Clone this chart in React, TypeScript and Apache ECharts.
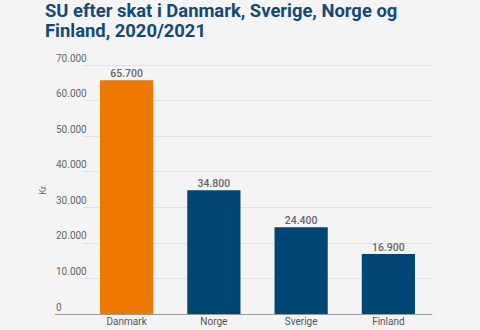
import React, { useEffect, useRef } from "react";
import * as echarts from "echarts";

const titleText = "SU efter skat i Danmark, Sverige, Norge og\nFinland, 2020/2021";
const categories = ["Danmark", "Norge", "Sverige", "Finland"];
const values = [65700, 34800, 24400, 16900];
const barColors = ["#ef7900", "#004776", "#004776", "#004776"];
const yMax = 70000;
const yInterval = 10000;
const yName = "Kr.";

const fmt = (v: number) => String(v).replace(/\B(?=(\d{3})+(?!\d))/g, ".");

export default function App() {
  const ref = useRef<HTMLDivElement>(null);
  useEffect(() => {
    if (!ref.current) return;
    const chart = echarts.init(ref.current, undefined, { renderer: "svg" });
    const font = "Roboto, sans-serif";
    chart.setOption({
      animation: false,
      backgroundColor: "#f4f4f4",
      textStyle: { fontFamily: font },
      graphic: [
        {
          type: "text",
          left: 45,
          top: 1,
          style: {
            text: titleText,
            fontFamily: font,
            fontSize: 18.4,
            fontWeight: "bold",
            lineHeight: 19.5,
            fill: "#0e4b7c",
          },
        },
        {
          type: "line",
          shape: { x1: 55, y1: 314.5, x2: 84, y2: 314.5 },
          style: { stroke: "#9a9a9a", lineWidth: 1 },
        },
      ],
      grid: { left: 83, right: 48, top: 65, bottom: 16, containLabel: false },
      xAxis: {
        type: "category",
        data: categories,
        axisTick: { show: false },
        axisLine: { lineStyle: { color: "#9a9a9a" } },
        axisLabel: { color: "#555", fontSize: 10, margin: 2 },
      },
      yAxis: {
        type: "value",
        min: 0,
        max: yMax,
        interval: yInterval,
        name: yName,
        nameLocation: "middle",
        nameGap: 36,
        nameMoveOverlap: false,
        nameTextStyle: { color: "#666", fontSize: 9 },
        axisLine: { show: false },
        axisTick: { show: false },
        splitLine: { lineStyle: { color: "#e2e2e2" } },
        axisLabel: {
          color: "#666",
          fontSize: 10,
          align: "left",
          verticalAlign: "bottom",
          margin: 27,
          padding: [0, 0, 2, 0],
          formatter: (v: number) => fmt(v),
        },
      },
      series: [
        {
          type: "bar",
          data: values.map((v, i) => ({ value: v, itemStyle: { color: barColors[i] } })),
          barWidth: "61%",
          label: {
            show: true,
            position: "top",
            distance: 1,
            color: "#666",
            fontSize: 10.5,
            fontWeight: 500,
            formatter: (p: any) => fmt(p.value),
          },
        },
      ],
    });
    return () => chart.dispose();
  }, []);
  return <div ref={ref} style={{ width: 480, height: 330, position: "fixed", left: 0, top: 0 }} />;
}
